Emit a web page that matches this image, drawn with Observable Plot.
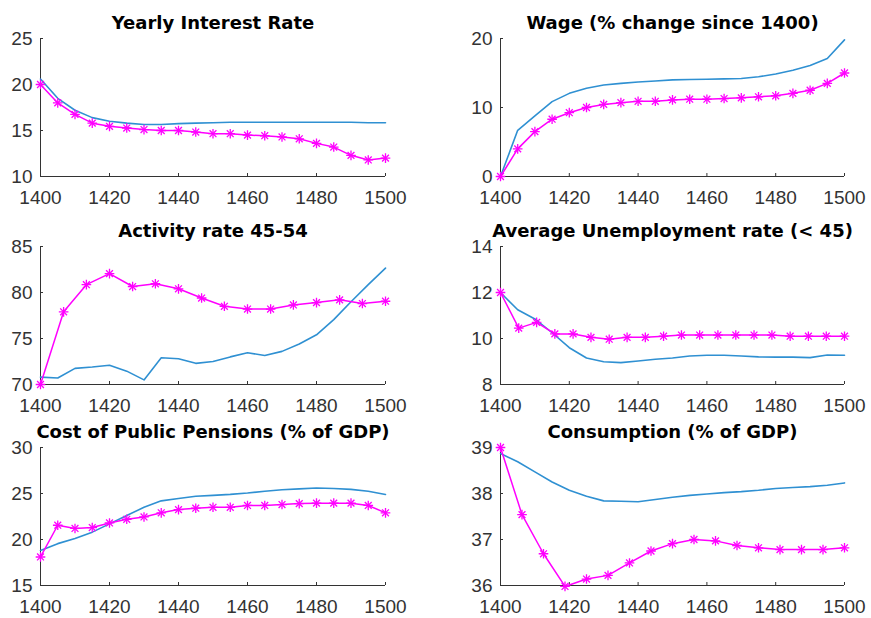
<!DOCTYPE html>
<html><head><meta charset="utf-8">
<script src="https://cdn.jsdelivr.net/npm/d3@7"></script>
<script src="https://cdn.jsdelivr.net/npm/@observablehq/plot@0.6"></script>
<style>
body{margin:0;background:#fff;overflow:hidden}
#c{position:relative;width:871px;height:618px;font-family:"Liberation Sans",Arial,sans-serif}
#c svg{position:absolute}
</style></head><body><div id="c"></div>
<script>
// ---------- data ----------
const xTicks = [1400, 1420, 1440, 1460, 1480, 1500];
const years5 = [1400,1405,1410,1415,1420,1425,1430,1435,1440,1445,1450,1455,1460,1465,1470,1475,1480,1485,1490,1495,1500];

// Panel 1: Yearly Interest Rate
const interestTitle = "Yearly Interest Rate";
const interestTicks = [10, 15, 20, 25];
const interestBlue = [20.6,18.5,17.2,16.4,16.0,15.8,15.65,15.65,15.75,15.8,15.85,15.9,15.9,15.9,15.9,15.9,15.9,15.9,15.9,15.85,15.85];
const interestMagYears = years5;
const interestMag = [20.0,18.0,16.75,15.8,15.45,15.27,15.1,15.0,15.0,14.83,14.65,14.65,14.5,14.43,14.3,14.1,13.6,13.2,12.3,11.8,12.0];

// Panel 2: Wage
const wageTitle = "Wage (% change since 1400)";
const wageTicks = [0, 10, 20];
const wageBlue = [0,6.7,8.8,10.85,12.05,12.8,13.25,13.5,13.7,13.85,14.0,14.05,14.1,14.15,14.2,14.45,14.85,15.4,16.1,17.1,19.8];
const wageMagYears = years5;
const wageMag = [0,4.0,6.5,8.3,9.25,10.0,10.45,10.7,10.9,10.9,11.1,11.2,11.2,11.3,11.4,11.55,11.7,12.05,12.5,13.5,15.0];

// Panel 3: Activity rate 45-54
const activityTitle = "Activity rate 45-54";
const activityTicks = [70, 75, 80, 85];
const activityBlue = [70.8,70.7,71.75,71.9,72.1,71.45,70.5,72.9,72.8,72.3,72.5,73.0,73.45,73.15,73.6,74.4,75.4,77.05,79.0,80.85,82.65];
const activityMagYears = [1400,1406.7,1413.3,1420,1426.7,1433.3,1440,1446.7,1453.3,1460,1466.7,1473.3,1480,1486.7,1493.3,1500];
const activityMag = [70.0,77.9,80.85,82.05,80.65,80.95,80.4,79.4,78.5,78.2,78.2,78.65,78.9,79.2,78.8,79.05];

// Panel 4: Average Unemployment rate (< 45)
const unempTitle = "Average Unemployment rate (< 45)";
const unempTicks = [8, 10, 12, 14];
const unempBlue = [12.0,11.25,10.85,10.25,9.6,9.15,8.99,8.95,9.02,9.1,9.15,9.24,9.27,9.27,9.24,9.2,9.19,9.19,9.17,9.28,9.27];
const unempMagYears = [1400,1405.3,1410.5,1415.8,1421.1,1426.3,1431.6,1436.8,1442.1,1447.4,1452.6,1457.9,1463.2,1468.4,1473.7,1478.9,1484.2,1489.5,1494.7,1500];
const unempMag = [12.0,10.45,10.7,10.2,10.2,10.05,9.97,10.05,10.05,10.1,10.15,10.15,10.15,10.15,10.15,10.15,10.1,10.1,10.1,10.1];

// Panel 5: Cost of Public Pensions (% of GDP)
const pensionTitle = "Cost of Public Pensions (% of GDP)";
const pensionTicks = [15, 20, 25, 30];
const pensionBlue = [18.8,19.55,20.1,20.8,21.7,22.6,23.5,24.2,24.45,24.7,24.8,24.9,25.05,25.25,25.4,25.5,25.6,25.55,25.45,25.25,24.9];
const pensionMagYears = years5;
const pensionMag = [18.1,21.55,21.2,21.3,21.8,22.2,22.45,22.9,23.25,23.4,23.5,23.5,23.7,23.7,23.8,23.9,23.95,23.95,23.95,23.7,22.9];

// Panel 6: Consumption (% of GDP)
const consTitle = "Consumption (% of GDP)";
const consTicks = [36, 37, 38, 39];
const consBlue = [38.87,38.69,38.47,38.25,38.07,37.94,37.84,37.83,37.82,37.87,37.92,37.96,37.99,38.02,38.04,38.07,38.11,38.13,38.15,38.18,38.23];
const consMagYears = [1400,1406.25,1412.5,1418.75,1425,1431.25,1437.5,1443.75,1450,1456.25,1462.5,1468.75,1475,1481.25,1487.5,1493.75,1500];
const consMag = [39.0,37.54,36.69,35.98,36.14,36.22,36.49,36.75,36.91,37.0,36.97,36.87,36.82,36.78,36.78,36.78,36.82];

// ---------- layout ----------
const BLUE = "#2f90d2";
const MAG = "#ff00ff";
const panels = [
  {title: interestTitle, ticks: interestTicks, blue: interestBlue, magX: interestMagYears, mag: interestMag, col: 0, row: 0},
  {title: wageTitle, ticks: wageTicks, blue: wageBlue, magX: wageMagYears, mag: wageMag, col: 1, row: 0},
  {title: activityTitle, ticks: activityTicks, blue: activityBlue, magX: activityMagYears, mag: activityMag, col: 0, row: 1},
  {title: unempTitle, ticks: unempTicks, blue: unempBlue, magX: unempMagYears, mag: unempMag, col: 1, row: 1},
  {title: pensionTitle, ticks: pensionTicks, blue: pensionBlue, magX: pensionMagYears, mag: pensionMag, col: 0, row: 2},
  {title: consTitle, ticks: consTicks, blue: consBlue, magX: consMagYears, mag: consMag, col: 1, row: 2}
];
const plotTops = [38, 246, 447];
const container = document.getElementById("c");

for (const p of panels) {
  const blueData = years5.map((y, i) => ({year: y, v: p.blue[i]}));
  const magData = p.magX.map((y, i) => ({year: y, v: p.mag[i]}));
  const ymin = p.ticks[0], ymax = p.ticks[p.ticks.length - 1];
  const W = p.col === 0 ? 435 : 436;
  const svg = Plot.plot({
    width: W, height: 200,
    marginTop: 38, marginBottom: 24,
    marginLeft: p.col === 0 ? 40 : 65,
    marginRight: p.col === 0 ? 50 : 27,
    style: {fontFamily: '"Liberation Sans", Arial, sans-serif', fontSize: "19px", color: "#333", background: "transparent", overflow: "visible"},
    x: {domain: [1400, 1500], label: null},
    y: {domain: [ymin, ymax], label: null},
    marks: [
      Plot.ruleX([1400], {stroke: "#333", strokeWidth: 1}),
      Plot.ruleY([ymin], {stroke: "#333", strokeWidth: 1}),
      Plot.axisX({ticks: xTicks, tickSize: -3, tickPadding: 17, tickFormat: d => String(d), label: null, fontSize: 19}),
      Plot.axisY({ticks: p.ticks, tickSize: -3, tickPadding: 11, tickFormat: d => String(d), label: null, fontSize: 19}),
      Plot.line(blueData, {x: "year", y: "v", stroke: BLUE, strokeWidth: 1.6}),
      Plot.line(magData, {x: "year", y: "v", stroke: MAG, strokeWidth: 1.5}),
      Plot.dot(magData, {x: "year", y: "v", symbol: "plus", r: 3.2, stroke: MAG, strokeWidth: 1.3}),
      Plot.dot(magData, {x: "year", y: "v", symbol: "times", r: 3.2, stroke: MAG, strokeWidth: 1.3}),
      Plot.text([p.title], {frameAnchor: "top", dy: -10, lineAnchor: "bottom", fontSize: 18, fontWeight: "bold", fill: "black", fontFamily: '"DejaVu Sans", sans-serif'})
    ]
  });
  svg.style.left = (p.col === 0 ? 0 : 435) + "px";
  svg.style.top = (plotTops[p.row] - 38) + "px";
  container.appendChild(svg);
}
</script></body></html>
